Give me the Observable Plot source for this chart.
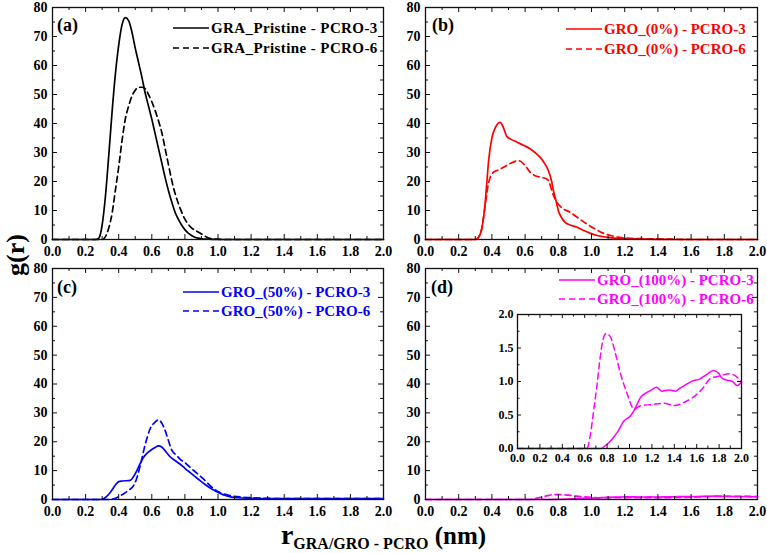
<!DOCTYPE html>
<html>
<head>
<meta charset="utf-8">
<script src="https://cdn.jsdelivr.net/npm/d3@7"></script>
<script src="https://cdn.jsdelivr.net/npm/@observablehq/plot@0.6"></script>
<style>
  body { margin: 0; background: #fff; }
  #fig { position: relative; width: 767px; height: 553px; background: #fff; overflow: hidden;
         font-family: "Liberation Serif", "Times New Roman", serif; font-weight: bold; color: #000; }
  .panel { position: absolute; }
  .panel svg { background: none !important; }
  .leg { position: absolute; display: flex; align-items: center; height: 18px; font-size: 15px; white-space: nowrap; }
  .leg svg { margin-right: 2px; }
  .tag { position: absolute; font-size: 18px; line-height: 1; }
</style>
</head>
<body>
<div id="fig"></div>
<script>
// Radial distribution functions g(r), as [r (nm), g(r)] pairs
const graPristinePcro3 = [[0,0],[0.26,0],[0.28,0.5],[0.30,5],[0.32,15],[0.34,29],[0.36,44],[0.38,57],[0.40,67],[0.42,74],[0.44,76.5],[0.46,75.5],[0.48,71.5],[0.50,66],[0.52,61],[0.54,56],[0.56,50.5],[0.58,46],[0.60,41.5],[0.62,36.5],[0.64,31.5],[0.66,26.5],[0.68,21.5],[0.70,17],[0.72,13],[0.74,9.5],[0.76,7],[0.78,5],[0.80,3.4],[0.82,2.2],[0.84,1.4],[0.86,0.8],[0.88,0.45],[0.90,0.25],[0.94,0.1],[1.0,0],[2.0,0]];
const graPristinePcro6 = [[0,0],[0.30,0],[0.32,1],[0.34,4],[0.36,9],[0.38,17],[0.40,25],[0.42,34],[0.44,41.5],[0.46,46],[0.48,49.5],[0.50,51.5],[0.52,52.5],[0.54,52.5],[0.56,52],[0.58,50],[0.60,47.5],[0.62,44.5],[0.64,41],[0.66,37],[0.68,31.5],[0.70,26],[0.72,20.5],[0.74,16],[0.76,12.5],[0.78,9.5],[0.80,7],[0.82,5.3],[0.84,4],[0.86,3.2],[0.88,2.6],[0.90,1.9],[0.92,1.2],[0.94,0.6],[0.96,0.3],[1.0,0.1],[1.05,0],[2.0,0]];

const gro0Pcro3 = [[0,0],[0.30,0],[0.32,0.8],[0.34,4],[0.36,13],[0.37,20],[0.38,27],[0.40,35],[0.42,38.5],[0.44,40.2],[0.45,40.4],[0.47,38.5],[0.49,35.5],[0.51,34.7],[0.55,33.6],[0.59,32.5],[0.63,31.3],[0.66,30],[0.69,28.4],[0.72,26],[0.74,23.8],[0.76,20],[0.77,17],[0.79,12.5],[0.80,10],[0.82,7.5],[0.84,6],[0.87,5],[0.91,4.3],[0.95,3.2],[0.99,2.2],[1.04,1.3],[1.09,0.8],[1.15,0.4],[1.2,0.3],[1.3,0.15],[1.4,0.05],[1.5,0],[2.0,0]];
const gro0Pcro6 = [[0,0],[0.30,0],[0.32,0.8],[0.34,4],[0.36,12],[0.38,19.5],[0.41,23.2],[0.44,24],[0.47,24.9],[0.51,26.2],[0.56,27.2],[0.60,25.5],[0.63,23.2],[0.66,22],[0.69,21.5],[0.73,20.9],[0.75,19],[0.76,17],[0.79,13],[0.82,11],[0.87,9.4],[0.92,7.4],[0.97,5.4],[1.02,3.7],[1.07,2.2],[1.12,1.3],[1.16,0.8],[1.2,0.5],[1.3,0.3],[1.4,0.2],[1.5,0.1],[1.6,0],[2.0,0]];

const gro50Pcro3 = [[0,0],[0.29,0],[0.32,0.7],[0.35,2.5],[0.38,5],[0.40,6.2],[0.42,6.4],[0.47,6.6],[0.49,8],[0.51,10],[0.53,12.5],[0.55,14.6],[0.57,16],[0.59,16.9],[0.62,18],[0.64,18.6],[0.66,18.2],[0.69,16.2],[0.71,14.8],[0.74,13.5],[0.77,12.3],[0.80,10.8],[0.83,9.4],[0.86,8],[0.89,6.6],[0.92,5.3],[0.95,4.1],[0.99,2.8],[1.03,1.7],[1.07,1],[1.12,0.6],[1.2,0.4],[1.3,0.3],[2.0,0.3]];
const gro50Pcro6 = [[0,0],[0.34,0],[0.37,0.2],[0.40,1],[0.43,2],[0.46,3.2],[0.49,4.8],[0.51,7.5],[0.53,11.7],[0.56,19],[0.59,24.5],[0.62,26.8],[0.64,27.6],[0.66,26.5],[0.68,24],[0.70,20.5],[0.72,17.2],[0.75,15.3],[0.77,14],[0.80,12.8],[0.83,11.2],[0.87,9.2],[0.91,7.2],[0.94,5.5],[0.97,3.9],[1.01,2.5],[1.05,1.7],[1.08,1.3],[1.15,0.8],[1.2,0.6],[1.3,0.4],[1.4,0.3],[2.0,0.3]];

const gro100Pcro3 = [[0,0],[0.74,0],[0.80,0.065],[0.85,0.15],[0.89,0.24],[0.95,0.41],[1.01,0.49],[1.04,0.565],[1.07,0.67],[1.10,0.765],[1.16,0.84],[1.20,0.88],[1.24,0.915],[1.29,0.855],[1.35,0.875],[1.41,0.855],[1.45,0.9],[1.49,0.94],[1.56,1.005],[1.63,1.04],[1.69,1.105],[1.75,1.165],[1.80,1.115],[1.82,1.06],[1.86,1.025],[1.92,1.0],[1.96,0.94],[2.0,0.99]];
const gro100Pcro6 = [[0,0],[0.62,0],[0.65,0.2],[0.68,0.565],[0.71,0.95],[0.735,1.315],[0.76,1.6],[0.79,1.715],[0.83,1.665],[0.875,1.415],[0.92,1.115],[0.98,0.815],[1.04,0.59],[1.10,0.64],[1.19,0.655],[1.31,0.675],[1.40,0.64],[1.49,0.69],[1.56,0.755],[1.65,0.89],[1.72,1.04],[1.80,1.08],[1.89,1.115],[1.96,1.065],[2.0,0.99]];

// Axis ticks
const rMajor = [0, 0.2, 0.4, 0.6, 0.8, 1.0, 1.2, 1.4, 1.6, 1.8, 2.0];
const rMinor = [0.1, 0.3, 0.5, 0.7, 0.9, 1.1, 1.3, 1.5, 1.7, 1.9];
const gMajor = [0, 10, 20, 30, 40, 50, 60, 70, 80];
const gMinor = [5, 15, 25, 35, 45, 55, 65, 75];
const insetMajor = [0, 0.5, 1.0, 1.5, 2.0];
const insetMinor = [0.25, 0.75, 1.25, 1.75];

// Series labels
const labelsA = ["GRA_Pristine - PCRO-3", "GRA_Pristine - PCRO-6"];
const labelsB = ["GRO_(0%) - PCRO-3", "GRO_(0%) - PCRO-6"];
const labelsC = ["GRO_(50%) - PCRO-3", "GRO_(50%) - PCRO-6"];
const labelsD = ["GRO_(100%) - PCRO-3", "GRO_(100%) - PCRO-6"];

const fig = document.getElementById("fig");
const fmt1 = d3.format(".1f");
const DASH = "6,4";

// Inward ticks on all four sides of the frame
function boxTicks(fw, fh, xMaj, xMin, yMaj, yMin, L, l) {
  const s = {stroke: "#111", strokeWidth: 1};
  return [
    Plot.ruleX(xMaj, {...s, insetTop: fh - L}),
    Plot.ruleX(xMaj, {...s, insetBottom: fh - L}),
    Plot.ruleX(xMin, {...s, insetTop: fh - l}),
    Plot.ruleX(xMin, {...s, insetBottom: fh - l}),
    Plot.ruleY(yMaj, {...s, insetRight: fw - L}),
    Plot.ruleY(yMaj, {...s, insetLeft: fw - L}),
    Plot.ruleY(yMin, {...s, insetRight: fw - l}),
    Plot.ruleY(yMin, {...s, insetLeft: fw - l})
  ];
}

function curve(data, color, dashed, w = 1.6) {
  return Plot.line(data, {
    x: d => d[0], y: d => d[1], stroke: color, strokeWidth: w,
    strokeDasharray: dashed ? DASH : null, curve: "monotone-x"
  });
}

function addPanel({left, top, width, height, margin, yDomain, yMaj, yMin, yFmt, series, color, fontSize, tick, lw}) {
  const [mt, mr, mb, ml] = margin;
  const fw = width - ml - mr, fh = height - mt - mb;
  const svg = Plot.plot({
    width, height,
    marginTop: mt, marginRight: mr, marginBottom: mb, marginLeft: ml,
    style: {fontFamily: "Liberation Serif, Times New Roman, serif", fontWeight: "bold", fontSize: fontSize + "px", color: "#000", background: "none", overflow: "visible"},
    x: {domain: [0, 2]},
    y: {domain: yDomain},
    marks: [
      ...series.map(([d, dashed]) => curve(d, color, dashed, lw)),
      ...boxTicks(fw, fh, rMajor, rMinor, yMaj, yMin, tick[0], tick[1]),
      Plot.frame({stroke: "#111", strokeWidth: 1.3}),
      Plot.axisX({ticks: rMajor, tickSize: 0, tickPadding: tick[2], tickFormat: fmt1, label: null}),
      Plot.axisY({ticks: yMaj, tickSize: 0, tickPadding: tick[3], tickFormat: yFmt, label: null})
    ]
  });
  const div = document.createElement("div");
  div.className = "panel";
  div.style.left = left + "px";
  div.style.top = top + "px";
  div.appendChild(svg);
  fig.appendChild(div);
}

function addLegend(x, y, text, color, dashed, spacing = 0) {
  const el = document.createElement("div");
  el.className = "leg";
  el.style.left = x + "px";
  el.style.top = (y - 9) + "px";
  el.style.color = color;
  el.style.letterSpacing = spacing + "px";
  el.innerHTML = `<svg width="36" height="6"><line x1="0" y1="3" x2="36" y2="3" stroke="${color}" stroke-width="1.6" ${dashed ? `stroke-dasharray="${DASH}"` : ""}/></svg><span>${text}</span>`;
  fig.appendChild(el);
}

function addTag(x, y, text) {
  const el = document.createElement("div");
  el.className = "tag";
  el.style.left = x + "px";
  el.style.top = y + "px";
  el.textContent = text;
  fig.appendChild(el);
}

const mainOpts = {yDomain: [0, 80], yMaj: gMajor, yMin: gMinor, yFmt: d3.format("d"), fontSize: 14, tick: [5, 3, 7, 5], lw: 1.7};

// (a) pristine graphene
addPanel({...mainOpts, left: 0, top: 0, width: 395, height: 262, margin: [7, 12, 23, 52],
  series: [[graPristinePcro3, false], [graPristinePcro6, true]], color: "#000"});
// (b) GRO 0%
addPanel({...mainOpts, left: 380, top: 0, width: 387, height: 262, margin: [7, 10, 23, 45],
  series: [[gro0Pcro3, false], [gro0Pcro6, true]], color: "#ff0000"});
// (c) GRO 50%
addPanel({...mainOpts, left: 0, top: 260, width: 395, height: 262, margin: [8, 12, 23, 52],
  series: [[gro50Pcro3, false], [gro50Pcro6, true]], color: "#0000ff"});
// (d) GRO 100%
addPanel({...mainOpts, left: 380, top: 260, width: 387, height: 262, margin: [8, 10, 23, 45],
  series: [[gro100Pcro3, false], [gro100Pcro6, true]], color: "#ff00ff"});
// (d) inset, zoomed to g(r) <= 2
addPanel({left: 490, top: 300, width: 260, height: 175, margin: [14, 9, 27, 27],
  yDomain: [0, 2], yMaj: insetMajor, yMin: insetMinor, yFmt: fmt1, fontSize: 12, tick: [4, 2.5, 5, 4], lw: 1.5,
  series: [[gro100Pcro3, false], [gro100Pcro6, true]], color: "#ff00ff"});

// Legends
addLegend(173, 28, labelsA[0], "#000", false, 0.4);
addLegend(173, 48, labelsA[1], "#000", true, 0.4);
addLegend(566, 29, labelsB[0], "#ff0000", false);
addLegend(566, 49, labelsB[1], "#ff0000", true);
addLegend(183, 292, labelsC[0], "#0000ff", false);
addLegend(183, 311, labelsC[1], "#0000ff", true);
addLegend(559, 280, labelsD[0], "#ff00ff", false);
addLegend(559, 299, labelsD[1], "#ff00ff", true);

// Panel tags
addTag(57, 16, "(a)");
addTag(432, 16, "(b)");
addTag(57, 278, "(c)");
addTag(431, 278, "(d)");

// Axis titles
const yt = document.createElement("div");
yt.style.cssText = "position:absolute;left:-12px;top:242px;width:56px;height:26px;line-height:26px;text-align:center;font-size:26px;transform:rotate(-90deg);";
yt.textContent = "g(r)";
fig.appendChild(yt);

const xt = document.createElement("div");
xt.style.cssText = "position:absolute;left:0;top:522px;width:767px;text-align:center;white-space:nowrap;line-height:0.9;";
xt.innerHTML = `<span style="font-size:28px">r</span><span style="font-size:16px;position:relative;top:5px">GRA/GRO - PCRO</span><span style="font-size:25px"> (nm)</span>`;
fig.appendChild(xt);
</script>
</body>
</html>
